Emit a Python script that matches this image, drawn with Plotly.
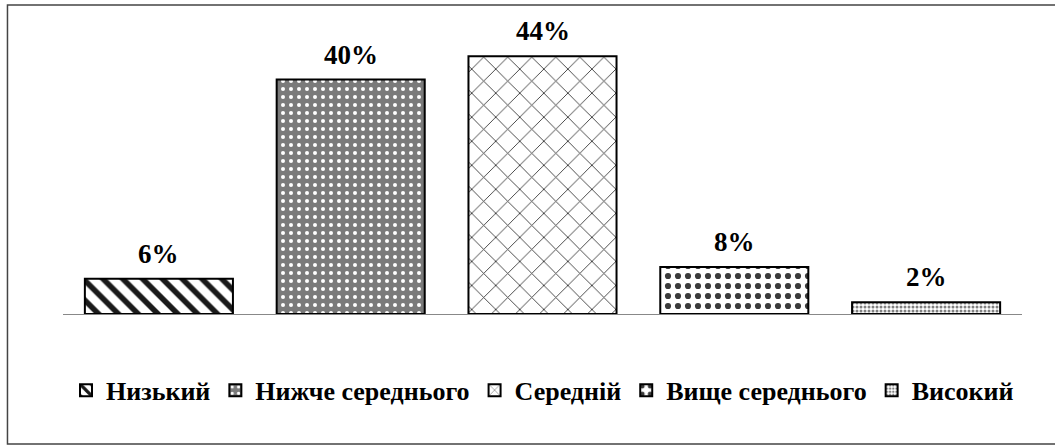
import plotly.graph_objects as go

# Рівні та частка респондентів (%)
levels = ["Низький", "Нижче середнього", "Середній", "Вище середнього", "Високий"]
shares = [6, 40, 44, 8, 2]
label_texts = ["6%", "40%", "44%", "8%", "2%"]

# Штрихування для кожного рівня
patterns = [
    dict(shape="\\", fgcolor="#1a1a1a", bgcolor="white", size=14, solidity=0.4, fillmode="replace"),
    dict(shape=".", fgcolor="white", bgcolor="#7a7a7a", size=8, solidity=0.2, fillmode="replace"),
    dict(shape="x", fgcolor="#333333", bgcolor="white", size=17, solidity=0.1, fillmode="replace"),
    dict(shape=".", fgcolor="#3a3a3a", bgcolor="white", size=10, solidity=0.3, fillmode="replace"),
    dict(shape=".", fgcolor="#808080", bgcolor="white", size=4, solidity=0.45, fillmode="replace"),
]

FONT = "Liberation Serif, Times New Roman, serif"

fig = go.Figure()
for name, val, pat in zip(levels, shares, patterns):
    fig.add_trace(go.Bar(
        x=[name], y=[val], name="<b>" + name + "</b>",
        marker=dict(color="white", line=dict(color="black", width=2), pattern=pat),
        width=0.772,
    ))

for name, val, txt in zip(levels, shares, label_texts):
    fig.add_annotation(
        x=name, y=val, text="<b>" + txt + "</b>", showarrow=False,
        yanchor="bottom", yshift=8,
        font=dict(family=FONT, size=27, color="black"),
    )

# Зовнішня рамка діаграми
fig.add_shape(type="rect", xref="paper", yref="paper",
              x0=-0.0579, x1=1.0375, y0=-0.4437, y1=1.0546,
              line=dict(color="#444444", width=1.5), fillcolor="rgba(0,0,0,0)", layer="below")

fig.update_layout(
    width=1055, height=446,
    margin=dict(l=63, r=33, t=21, b=132, autoexpand=False),
    paper_bgcolor="white", plot_bgcolor="white",
    barmode="overlay",
    showlegend=True,
    legend=dict(orientation="h", x=0.5, xanchor="center", y=-0.18, yanchor="top",
                font=dict(family=FONT, size=26, color="black"),
                itemwidth=30, tracegroupgap=0),
    font=dict(family=FONT, color="black"),
)
fig.update_xaxes(showticklabels=False, ticks="", showgrid=False, showline=True,
                 linecolor="#888888", linewidth=1, zeroline=False)
fig.update_yaxes(range=[0, 50], visible=False, showgrid=False, zeroline=False)

fig.write_html("out.html")
